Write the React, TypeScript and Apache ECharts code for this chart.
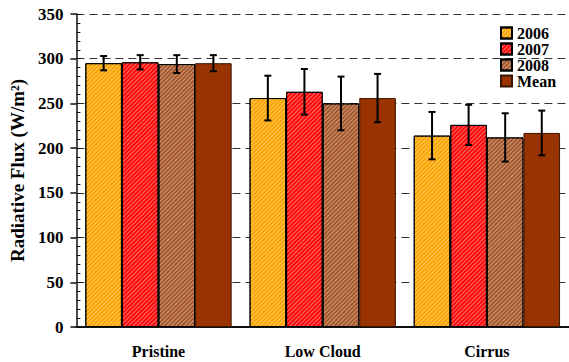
import React, { useEffect, useRef } from "react";
import * as echarts from "echarts";

const categories = ["Pristine", "Low Cloud", "Cirrus"];
const seriesNames = ["2006", "2007", "2008", "Mean"];
const values2006 = [295, 256, 214];
const values2007 = [296, 263, 226];
const values2008 = [294, 250, 212];
const valuesMean = [295, 256, 217];
const err2006 = [8, 25, 26.5];
const err2007 = [8, 25.5, 22.5];
const err2008 = [10, 30, 27];
const errMean = [9, 27, 25];
const yTicks = [0, 50, 100, 150, 200, 250, 300, 350];

const FONT = "'Liberation Serif', 'Times New Roman', serif";
const CAT_GAP = 0.109;

export default function App() {
  const ref = useRef<HTMLDivElement>(null);
  useEffect(() => {
    if (!ref.current) return;
    const chart = echarts.init(ref.current, null, { renderer: "svg" });
    const allVals = [values2006, values2007, values2008, valuesMean];
    const allErr = [err2006, err2007, err2008, errMean];
    const colors = ["#FBA400", "#FF0505", "#A3552B", "#993300"];
    const stripe = [
      "rgba(255,240,200,0.5)",
      "rgba(255,220,220,0.5)",
      "rgba(245,215,180,0.55)",
      null,
    ];
    const barSeries = seriesNames.map((name, i) => ({
      name,
      type: "bar",
      data: allVals[i],
      barGap: "0%",
      barCategoryGap: (CAT_GAP * 100).toFixed(1) + "%",
      itemStyle: {
        color: colors[i],
        borderColor: i === 3 ? "#3a1500" : "#000",
        borderWidth: 1,
        decal: stripe[i]
          ? {
              symbol: "rect",
              symbolSize: 1,
              color: stripe[i],
              dashArrayX: [1, 0],
              dashArrayY: [1, 2],
              rotation: -Math.PI / 4,
            }
          : "none",
      },
      z: 2,
    }));
    const errData: number[][] = [];
    allVals.forEach((vals, s) => {
      vals.forEach((v, c) => {
        errData.push([c, v, allErr[s][c], s]);
      });
    });
    const errSeries = {
      type: "custom",
      name: "err",
      z: 5,
      data: errData,
      encode: { x: 0, y: 1 },
      renderItem: (params: any, api: any) => {
        const c = api.value(0);
        const v = api.value(1);
        const e = api.value(2);
        const s = api.value(3);
        const band = api.size([1, 0])[0];
        const bw = (band * (1 - CAT_GAP)) / 4;
        const center = api.coord([c, v]);
        const x = center[0] + (s - 1.5) * bw;
        const top = api.coord([c, v + e])[1];
        const bot = api.coord([c, v - e])[1];
        const cap = 3.5;
        const st = { stroke: "#000", lineWidth: 2 };
        return {
          type: "group",
          children: [
            { type: "line", shape: { x1: x, y1: top, x2: x, y2: bot }, style: st },
            { type: "line", shape: { x1: x - cap, y1: top, x2: x + cap, y2: top }, style: st },
            { type: "line", shape: { x1: x - cap, y1: bot, x2: x + cap, y2: bot }, style: st },
          ],
        };
      },
    };
    chart.setOption({
      animation: false,
      backgroundColor: "#fff",
      textStyle: { fontFamily: FONT },
      legend: {
        data: seriesNames,
        orient: "vertical",
        left: 500,
        top: 25,
        itemWidth: 11,
        itemHeight: 11,
        itemGap: 0,
        padding: 0,
        icon: "rect",
        textStyle: {
          fontFamily: FONT,
          fontWeight: "bold",
          fontSize: 16,
          lineHeight: 16,
          color: "#000",
        },
      },
      grid: { left: 75, top: 14, width: 499, height: 313 },
      xAxis: {
        type: "category",
        data: categories,
        axisLine: { lineStyle: { color: "#111", width: 2 } },
        axisTick: { show: false },
        axisLabel: { fontFamily: FONT, fontWeight: "bold", fontSize: 16, color: "#000", margin: 16 },
      },
      yAxis: [
        {
          type: "value",
          position: "left",
          min: yTicks[0],
          max: yTicks[yTicks.length - 1],
          interval: 50,
          axisLine: { show: true, lineStyle: { color: "#111", width: 1.5 } },
          axisTick: { show: true, inside: false, length: 6, lineStyle: { color: "#111", width: 1.5 } },
          axisLabel: { fontFamily: FONT, fontWeight: "bold", fontSize: 17, color: "#000", margin: 13 },
          splitLine: { show: true, lineStyle: { color: "#333", type: [8, 5], width: 1 } },
          name: "Radiative Flux (W/m²)",
          nameLocation: "middle",
          nameGap: 41,
          nameTextStyle: { fontFamily: FONT, fontWeight: "bold", fontSize: 19, color: "#000" },
        },
        {
          type: "value",
          position: "left",
          min: 0,
          max: 350,
          interval: 10,
          axisLine: { show: false },
          axisTick: { show: true, inside: true, length: 4, lineStyle: { color: "#111", width: 1 } },
          axisLabel: { show: false },
          splitLine: { show: false },
        },
      ],
      series: [...barSeries, errSeries],
    });
    return () => chart.dispose();
  }, []);
  return (
    <div
      ref={ref}
      style={{ position: "fixed", left: 0, top: 0, width: 569, height: 362 }}
    />
  );
}
